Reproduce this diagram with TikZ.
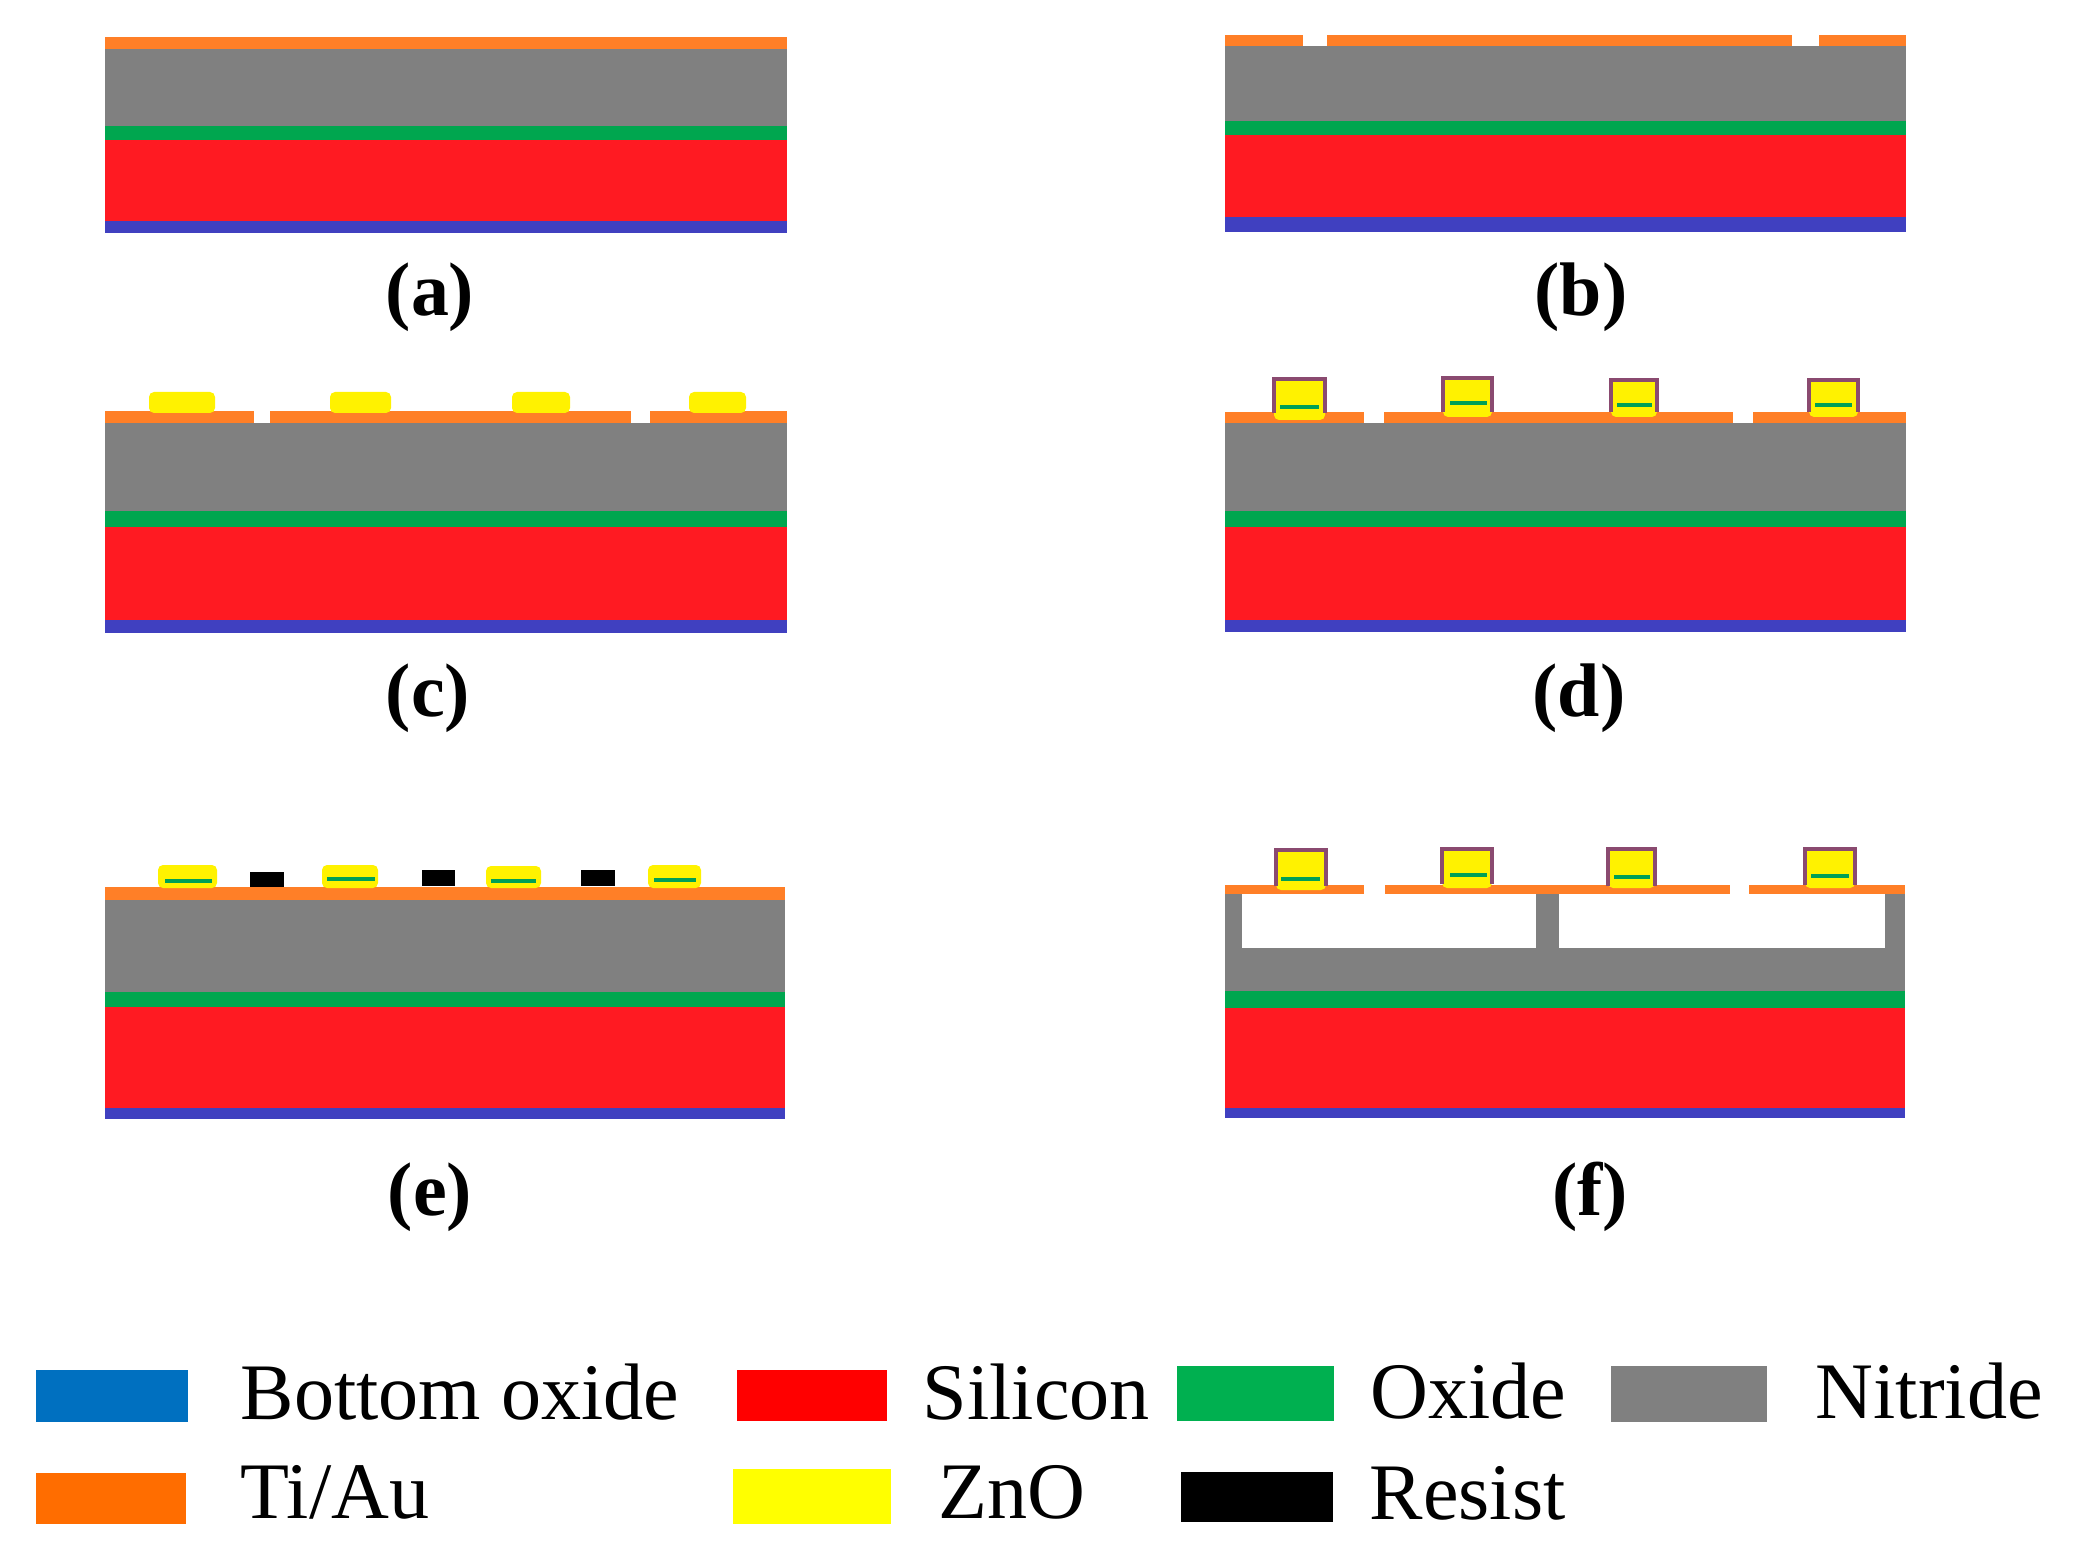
\documentclass[tikz,border=0pt]{standalone}
\usepackage{fontspec}
\setmainfont{Liberation Serif}
\usepackage{tikz}
\usetikzlibrary{positioning}
\definecolor{waferblue}{HTML}{4040C0}
\definecolor{waferred}{HTML}{FF1A22}
\definecolor{wafergreen}{HTML}{00A64F}
\definecolor{wafergray}{HTML}{808080}
\definecolor{waferorange}{HTML}{FF7F27}
\definecolor{waferyellow}{HTML}{FFF200}
\definecolor{keyblue}{HTML}{0070C0}
\definecolor{keyred}{HTML}{FF0000}
\definecolor{keygreen}{HTML}{00B050}
\definecolor{keyorange}{HTML}{FF6D00}
\definecolor{keyyellow}{HTML}{FFFF00}
\definecolor{coating}{HTML}{8A4A70}
\tikzstyle{bot} = [fill=waferblue]
\tikzstyle{si} = [fill=waferred]
\tikzstyle{ox} = [fill=wafergreen]
\tikzstyle{nit} = [fill=wafergray]
\tikzstyle{tiau} = [fill=waferorange]
\tikzstyle{zno} = [fill=waferyellow, rounded corners=0.5mm]
\tikzstyle{shell} = [draw=coating, line width=0.35mm]
\tikzstyle{core} = [draw=wafergreen!85!teal, line width=0.4mm]
\tikzstyle{tag} = [inner sep=0pt, font=\fontsize{21.6}{26}\selectfont\bfseries]
\tikzstyle{keytext} = [inner sep=0pt, anchor=base west, font=\fontsize{22.8}{27}\selectfont]

\begin{document}
\begin{tikzpicture}[x=0.1mm, y=-0.1mm]
    \useasboundingbox (0,0) rectangle (2086,1564);
    % (a)
    \fill[bot] (105,221) rectangle (787,233);
    \fill[si] (105,140) rectangle (787,221);
    \fill[ox] (105,126) rectangle (787,140);
    \fill[nit] (105,49) rectangle (787,126);
    \fill[tiau] (105,37) rectangle (787,49);
    \node (taga) [tag] at (430,297) {(a)};
    % (b)
    \fill[bot] (1225,217) rectangle (1906,232);
    \fill[si] (1225,135) rectangle (1906,217);
    \fill[ox] (1225,121) rectangle (1906,135);
    \fill[nit] (1225,46) rectangle (1906,121);
    \fill[tiau] (1225,35) rectangle (1303,46);
    \fill[tiau] (1327,35) rectangle (1792,46);
    \fill[tiau] (1819,35) rectangle (1906,46);
    \node (tagb) [tag] at (1581,297) {(b)};
    % (c)
    \fill[bot] (105,620) rectangle (787,633);
    \fill[si] (105,527) rectangle (787,620);
    \fill[ox] (105,511) rectangle (787,527);
    \fill[nit] (105,423) rectangle (787,511);
    \fill[tiau] (105,411) rectangle (254,423);
    \fill[tiau] (270,411) rectangle (631,423);
    \fill[tiau] (650,411) rectangle (787,423);
    \fill[zno] (149,392) rectangle (215,413);
    \fill[zno] (330,392) rectangle (391,413);
    \fill[zno] (512,392) rectangle (570,413);
    \fill[zno] (689,392) rectangle (746,413);
    \node (tagc) [tag] at (428,698) {(c)};
    % (d)
    \fill[bot] (1225,620) rectangle (1906,632);
    \fill[si] (1225,527) rectangle (1906,620);
    \fill[ox] (1225,511) rectangle (1906,527);
    \fill[nit] (1225,423) rectangle (1906,511);
    \fill[tiau] (1225,412) rectangle (1364,423);
    \fill[tiau] (1384,412) rectangle (1733,423);
    \fill[tiau] (1753,412) rectangle (1906,423);
    \fill[zno] (1274,379) rectangle (1325,420);
    \draw[shell] (1274,413) |- (1325,379) -- (1325,413);
    \draw[core] (1280,407) -- (1319,407);
    \fill[zno] (1443,378) rectangle (1492,417);
    \draw[shell] (1443,412) |- (1492,378) -- (1492,412);
    \draw[core] (1450,403) -- (1487,403);
    \fill[zno] (1611,380) rectangle (1657,417);
    \draw[shell] (1611,412) |- (1657,380) -- (1657,412);
    \draw[core] (1617,405) -- (1652,405);
    \fill[zno] (1809,380) rectangle (1858,417);
    \draw[shell] (1809,412) |- (1858,380) -- (1858,412);
    \draw[core] (1815,405) -- (1852,405);
    \node (tagd) [tag] at (1579,698) {(d)};
    % (e)
    \fill[bot] (105,1108) rectangle (785,1119);
    \fill[si] (105,1007) rectangle (785,1108);
    \fill[ox] (105,992) rectangle (785,1007);
    \fill[nit] (105,900) rectangle (785,992);
    \fill[tiau] (105,887) rectangle (785,900);
    \fill[zno] (158,865) rectangle (217,888);
    \draw[core] (165,881) -- (212,881);
    \fill[zno] (322,865) rectangle (378,888);
    \draw[core] (327,879) -- (375,879);
    \fill[zno] (486,866) rectangle (541,888);
    \draw[core] (491,881) -- (536,881);
    \fill[zno] (648,865) rectangle (701,888);
    \draw[core] (654,880) -- (696,880);
    \fill[black] (250,872) rectangle (284,887);
    \fill[black] (422,870) rectangle (455,886);
    \fill[black] (581,870) rectangle (615,886);
    \node (tage) [tag] at (430,1197) {(e)};
    % (f)
    \fill[bot] (1225,1108) rectangle (1905,1118);
    \fill[si] (1225,1008) rectangle (1905,1108);
    \fill[ox] (1225,991) rectangle (1905,1008);
    \fill[nit] (1225,894) rectangle (1905,991);
    \fill[white] (1242,894) rectangle (1536,948);
    \fill[white] (1559,894) rectangle (1885,948);
    \fill[tiau] (1225,885) rectangle (1364,894);
    \fill[tiau] (1385,885) rectangle (1730,894);
    \fill[tiau] (1749,885) rectangle (1905,894);
    \fill[zno] (1276,850) rectangle (1326,890);
    \draw[shell] (1276,886) |- (1326,850) -- (1326,886);
    \draw[core] (1281,879) -- (1320,879);
    \fill[zno] (1442,849) rectangle (1492,888);
    \draw[shell] (1442,884) |- (1492,849) -- (1492,884);
    \draw[core] (1450,875) -- (1487,875);
    \fill[zno] (1608,849) rectangle (1655,888);
    \draw[shell] (1608,886) |- (1655,849) -- (1655,886);
    \draw[core] (1614,877) -- (1650,877);
    \fill[zno] (1805,849) rectangle (1855,888);
    \draw[shell] (1805,885) |- (1855,849) -- (1855,885);
    \draw[core] (1811,876) -- (1849,876);
    \node (tagf) [tag] at (1590,1197) {(f)};
    % key
    \fill[keyblue] (36,1370) rectangle (188,1422);
    \node (botkey) [keytext] at (240,1419) {Bottom oxide};
    \fill[keyred] (737,1370) rectangle (887,1421);
    \node (sikey) [keytext] at (922,1419) {Silicon};
    \fill[keygreen] (1177,1366) rectangle (1334,1421);
    \node (oxkey) [keytext] at (1370,1418) {Oxide};
    \fill[wafergray] (1611,1366) rectangle (1767,1422);
    \node (nitkey) [keytext] at (1815,1418) {Nitride};
    \fill[keyorange] (36,1473) rectangle (186,1524);
    \node (tiaukey) [keytext] at (240,1518) {Ti/Au};
    \fill[keyyellow] (733,1469) rectangle (891,1524);
    \node (znokey) [keytext] at (938,1518) {ZnO};
    \fill[black] (1181,1472) rectangle (1333,1522);
    \node (reskey) [keytext] at (1369,1519) {Resist};
\end{tikzpicture}
\end{document}
